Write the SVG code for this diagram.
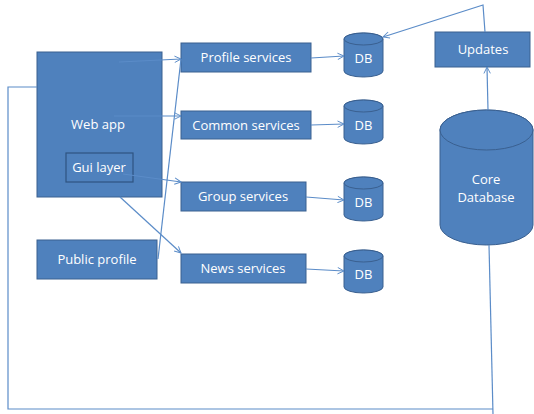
<svg xmlns="http://www.w3.org/2000/svg" width="534" height="414" viewBox="0 0 534 414">
<style>
.box{fill:#4f81bd;stroke:#3a6090;stroke-width:1}
.inner{fill:#4f81bd;stroke:#2f5480;stroke-width:1.2}
.t{font-family:"Open Sans","Liberation Sans",sans-serif;font-size:13px;fill:#ffffff;text-anchor:middle}
.c{fill:none;stroke:#5b8cc8;stroke-width:1.2}
</style>
<defs>
<marker id="a" viewBox="0 0 10 10" refX="9" refY="5" markerWidth="8" markerHeight="8" markerUnits="userSpaceOnUse" orient="auto">
<path d="M1,1 L9,5 L1,9" fill="none" stroke="#5b8cc8" stroke-width="1.2"/>
</marker>
</defs>
<rect width="534" height="414" fill="#ffffff"/>
<g id="webapp">
<rect class="box" x="37" y="52" width="125" height="145"/>
<text class="t" x="98" y="129">Web app</text>
</g>
<g id="guilayer">
<rect class="inner" x="66" y="153" width="67" height="29"/>
<text class="t" x="99" y="172">Gui layer</text>
</g>
<g id="publicprofile">
<rect class="box" x="37" y="240" width="120" height="39"/>
<text class="t" x="97" y="264">Public profile</text>
</g>
<g id="profileservices">
<rect class="box" x="181" y="43" width="130" height="29"/>
<text class="t" x="246" y="62">Profile services</text>
</g>
<g id="commonservices">
<rect class="box" x="181" y="111" width="130" height="28"/>
<text class="t" x="246" y="130">Common services</text>
</g>
<g id="groupservices">
<rect class="box" x="181" y="182" width="125" height="29"/>
<text class="t" x="243" y="201">Group services</text>
</g>
<g id="newsservices">
<rect class="box" x="181" y="254" width="125" height="29"/>
<text class="t" x="243" y="273">News services</text>
</g>
<g id="db1">
<path class="box" d="M344,39 L344,71 A19.5,6 0 0 0 383,71 L383,39 A19.5,6 0 0 0 344,39 Z"/>
<ellipse class="box" cx="363.5" cy="39" rx="19.5" ry="6"/>
<text class="t" x="363.5" y="63">DB</text>
</g>
<g id="db2">
<path class="box" d="M344,106 L344,138 A19.5,6 0 0 0 383,138 L383,106 A19.5,6 0 0 0 344,106 Z"/>
<ellipse class="box" cx="363.5" cy="106" rx="19.5" ry="6"/>
<text class="t" x="363.5" y="130">DB</text>
</g>
<g id="db3">
<path class="box" d="M344,183 L344,215 A19.5,6 0 0 0 383,215 L383,183 A19.5,6 0 0 0 344,183 Z"/>
<ellipse class="box" cx="363.5" cy="183" rx="19.5" ry="6"/>
<text class="t" x="363.5" y="207">DB</text>
</g>
<g id="db4">
<path class="box" d="M344,256 L344,287 A19.5,6 0 0 0 383,287 L383,256 A19.5,6 0 0 0 344,256 Z"/>
<ellipse class="box" cx="363.5" cy="256" rx="19.5" ry="6"/>
<text class="t" x="363.5" y="279">DB</text>
</g>
<g id="updates">
<rect class="box" x="435" y="32" width="95" height="35"/>
<text class="t" x="483" y="54">Updates</text>
</g>
<g id="coredatabase">
<path class="box" d="M440,130 L440,225 A46.5,20 0 0 0 533,225 L533,130 A46.5,20 0 0 0 440,130 Z"/>
<ellipse class="box" cx="486.5" cy="130" rx="46.5" ry="20"/>
<text class="t" x="486" y="184">Core</text>
<text class="t" x="486" y="202">Database</text>
</g>
<g id="connectors">
<line class="c" x1="119" y1="62" x2="181" y2="59" marker-end="url(#a)"/>
<line class="c" x1="158" y1="259" x2="181" y2="59"/>
<line class="c" x1="114" y1="116" x2="181" y2="116" marker-end="url(#a)"/>
<line class="c" x1="123" y1="174" x2="181" y2="182" marker-end="url(#a)"/>
<line class="c" x1="120" y1="197" x2="181" y2="253" marker-end="url(#a)"/>
<line class="c" x1="311" y1="58" x2="344" y2="56" marker-end="url(#a)"/>
<line class="c" x1="311" y1="125" x2="344" y2="124" marker-end="url(#a)"/>
<line class="c" x1="306" y1="197" x2="344" y2="200" marker-end="url(#a)"/>
<line class="c" x1="306" y1="269" x2="344" y2="271" marker-end="url(#a)"/>
<line class="c" x1="488" y1="110" x2="487" y2="67" marker-end="url(#a)"/>
<polyline class="c" points="485,32 483,5 383,37" marker-end="url(#a)"/>
<polyline class="c" points="37,87 8,87 8,409 493,409"/>
<line class="c" x1="489" y1="245" x2="493" y2="414"/>
</g>
</svg>
